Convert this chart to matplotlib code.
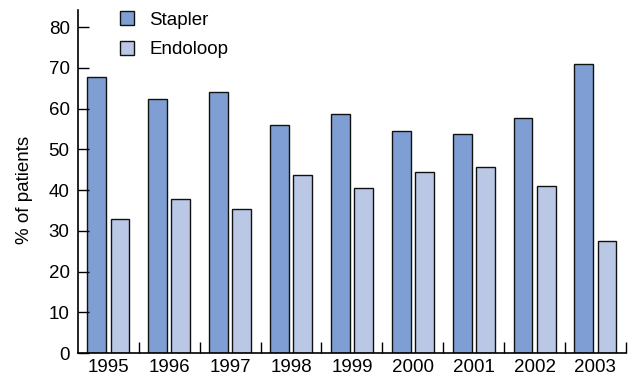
import matplotlib
matplotlib.use('Agg')
import matplotlib.pyplot as plt
import numpy as np

plt.rcParams['font.family'] = ['Liberation Sans', 'DejaVu Sans']

years = ['1995', '1996', '1997', '1998', '1999', '2000', '2001', '2002', '2003']
stapler = [67.7, 62.3, 64.0, 56.0, 58.6, 54.6, 53.7, 57.8, 71.0]
endoloop = [33.0, 37.7, 35.4, 43.6, 40.4, 44.5, 45.7, 41.1, 27.5]

fig = plt.figure(figsize=(6.29, 3.79), dpi=100)
ax = fig.add_axes([0.124, 0.0686, 0.871, 0.905])

x = np.arange(len(years))
w = 0.31
ax.bar(x - 0.19, stapler, w, color='#7f9fd4', edgecolor='#111111', linewidth=1.0, label='Stapler')
ax.bar(x + 0.19, endoloop, w, color='#bac8e6', edgecolor='#111111', linewidth=1.0, label='Endoloop')

ax.set_xlim(-0.5, len(years) - 0.5)
ax.set_ylim(0, 84.2)
ax.set_yticks(range(0, 81, 10))
ax.set_xticks(x)
ax.set_xticklabels(years)
ax.set_xticks(np.arange(0.5, len(years), 1), minor=True)
ax.tick_params(axis='x', which='major', length=0, pad=4, labelsize=13.5)
ax.tick_params(axis='x', which='minor', direction='in', length=8, width=1)
ax.tick_params(axis='y', direction='in', length=8, width=1, labelsize=13.5, pad=6)
for s in ['top', 'right']:
    ax.spines[s].set_visible(False)
for s in ['left', 'bottom']:
    ax.spines[s].set_linewidth(1.2)

ax.set_ylabel('% of patients', fontsize=13.5)
ax.yaxis.set_label_coords(-0.082, 0.474)

ax.legend(loc='upper left', bbox_to_anchor=(0.045, 1.045), frameon=False,
          handlelength=0.75, handleheight=0.75, labelspacing=0.65, handletextpad=0.85,
          fontsize=13.5)

fig.savefig('out.png', dpi=100)
